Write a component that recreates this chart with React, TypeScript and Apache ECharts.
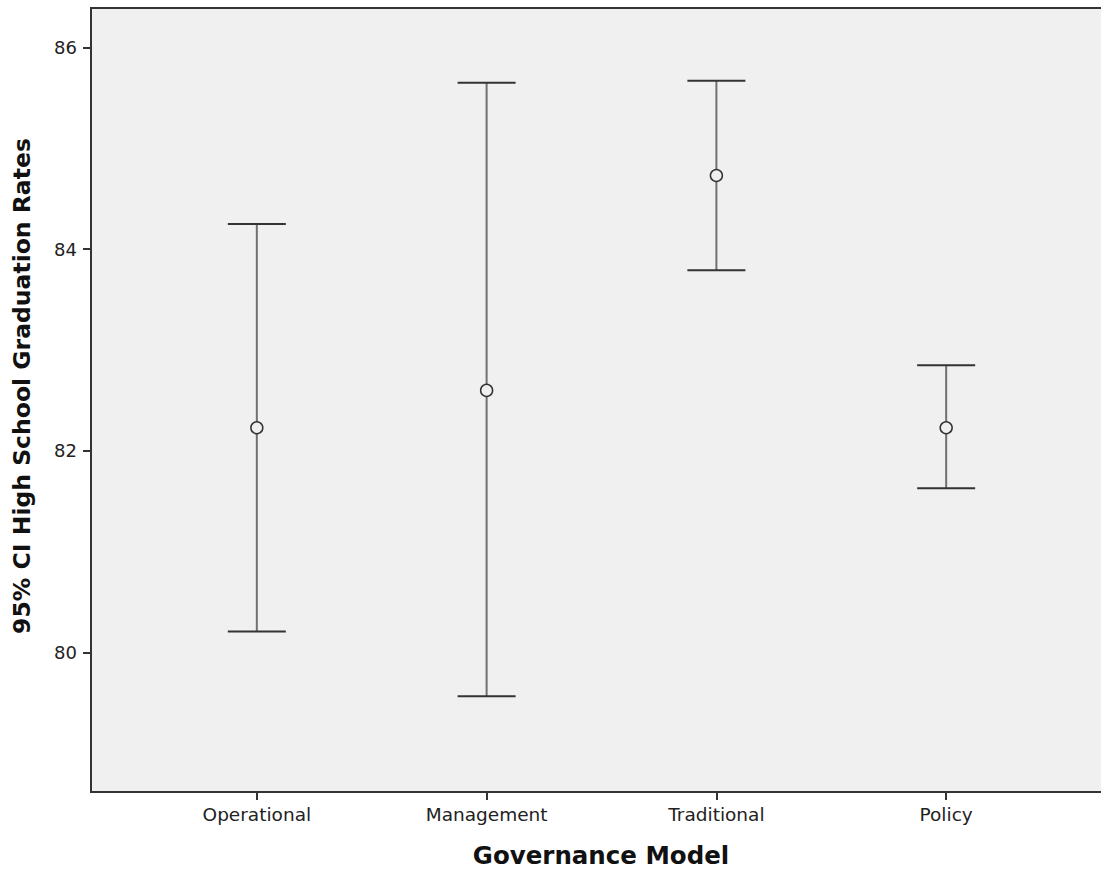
import React, { useEffect, useRef } from "react";
import * as echarts from "echarts";

const categories = ["Operational", "Management", "Traditional", "Policy"];
const means = [82.23, 82.6, 84.73, 82.23];
const lowers = [80.21, 79.57, 83.79, 81.63];
const uppers = [84.25, 85.65, 85.67, 82.85];
const yTicks = [80, 82, 84, 86];
const xTitle = "Governance Model";
const yTitle = "95% CI High School Graduation Rates";

export default function App() {
  const ref = useRef<HTMLDivElement>(null);
  useEffect(() => {
    if (!ref.current) return;
    const chart = echarts.init(ref.current, undefined, { renderer: "svg" });
    const positions = categories.map((_, i) => i + 1);
    const barData = positions.map((p, i) => [p, lowers[i], uppers[i]]);
    const meanData = positions.map((p, i) => [p, means[i]]);
    const font = "DejaVu Sans";
    chart.setOption({
      animation: false,
      backgroundColor: "#ffffff",
      grid: {
        left: 91,
        top: 8,
        width: 1021,
        height: 784,
        show: true,
        backgroundColor: "#f0f0f0",
        borderColor: "#333333",
        borderWidth: 2,
      },
      xAxis: {
        type: "value",
        min: 0.2783,
        max: 4.7217,
        splitLine: { show: false },
        axisLine: { show: true, lineStyle: { color: "#333333", width: 2 } },
        axisTick: {
          show: true,
          length: 8,
          customValues: positions,
          lineStyle: { color: "#333333", width: 2 },
        },
        axisLabel: {
          customValues: positions,
          formatter: (v: number) => categories[Math.round(v) - 1] ?? "",
          margin: 13,
          color: "#222222",
          fontFamily: font,
          fontSize: 18.5,
        },
      },
      yAxis: {
        type: "value",
        min: 78.62,
        max: 86.39,
        splitLine: { show: false },
        axisLine: { show: true, lineStyle: { color: "#333333", width: 2 } },
        axisTick: {
          show: true,
          length: 8,
          customValues: yTicks,
          lineStyle: { color: "#333333", width: 2 },
        },
        axisLabel: {
          customValues: yTicks,
          margin: 14,
          color: "#222222",
          fontFamily: font,
          fontSize: 18,
        },
      },
      graphic: [
        {
          type: "text",
          x: 601,
          y: 855,
          style: {
            text: xTitle,
            align: "center",
            verticalAlign: "middle",
            fill: "#111111",
            font: `bold 24.5px "${font}"`,
          },
        },
        {
          type: "text",
          x: 22,
          y: 386,
          rotation: Math.PI / 2,
          style: {
            text: yTitle,
            align: "center",
            verticalAlign: "middle",
            fill: "#111111",
            font: `bold 23.5px "${font}"`,
          },
        },
      ],
      series: [
        {
          type: "custom",
          data: barData,
          encode: { x: 0, y: [1, 2] },
          renderItem: (params: any, api: any) => {
            const x = api.value(0);
            const lo = api.coord([x, api.value(1)]);
            const hi = api.coord([x, api.value(2)]);
            const hw = 29;
            return {
              type: "group",
              children: [
                {
                  type: "line",
                  shape: { x1: lo[0], y1: lo[1], x2: hi[0], y2: hi[1] },
                  style: { stroke: "#707070", lineWidth: 2 },
                },
                {
                  type: "line",
                  shape: { x1: hi[0] - hw, y1: hi[1], x2: hi[0] + hw, y2: hi[1] },
                  style: { stroke: "#333333", lineWidth: 2 },
                },
                {
                  type: "line",
                  shape: { x1: lo[0] - hw, y1: lo[1], x2: lo[0] + hw, y2: lo[1] },
                  style: { stroke: "#333333", lineWidth: 2 },
                },
              ],
            };
          },
          z: 2,
        },
        {
          type: "scatter",
          data: meanData,
          symbol: "circle",
          symbolSize: 12,
          itemStyle: { color: "#f0f0f0", borderColor: "#333333", borderWidth: 1.5, opacity: 1 },
          z: 3,
        },
      ],
    });
    return () => chart.dispose();
  }, []);
  return (
    <div
      style={{
        position: "absolute",
        left: 0,
        top: 0,
        width: 1101,
        height: 869,
        overflow: "hidden",
      }}
    >
      <div ref={ref} style={{ width: 1130, height: 869 }} />
    </div>
  );
}
